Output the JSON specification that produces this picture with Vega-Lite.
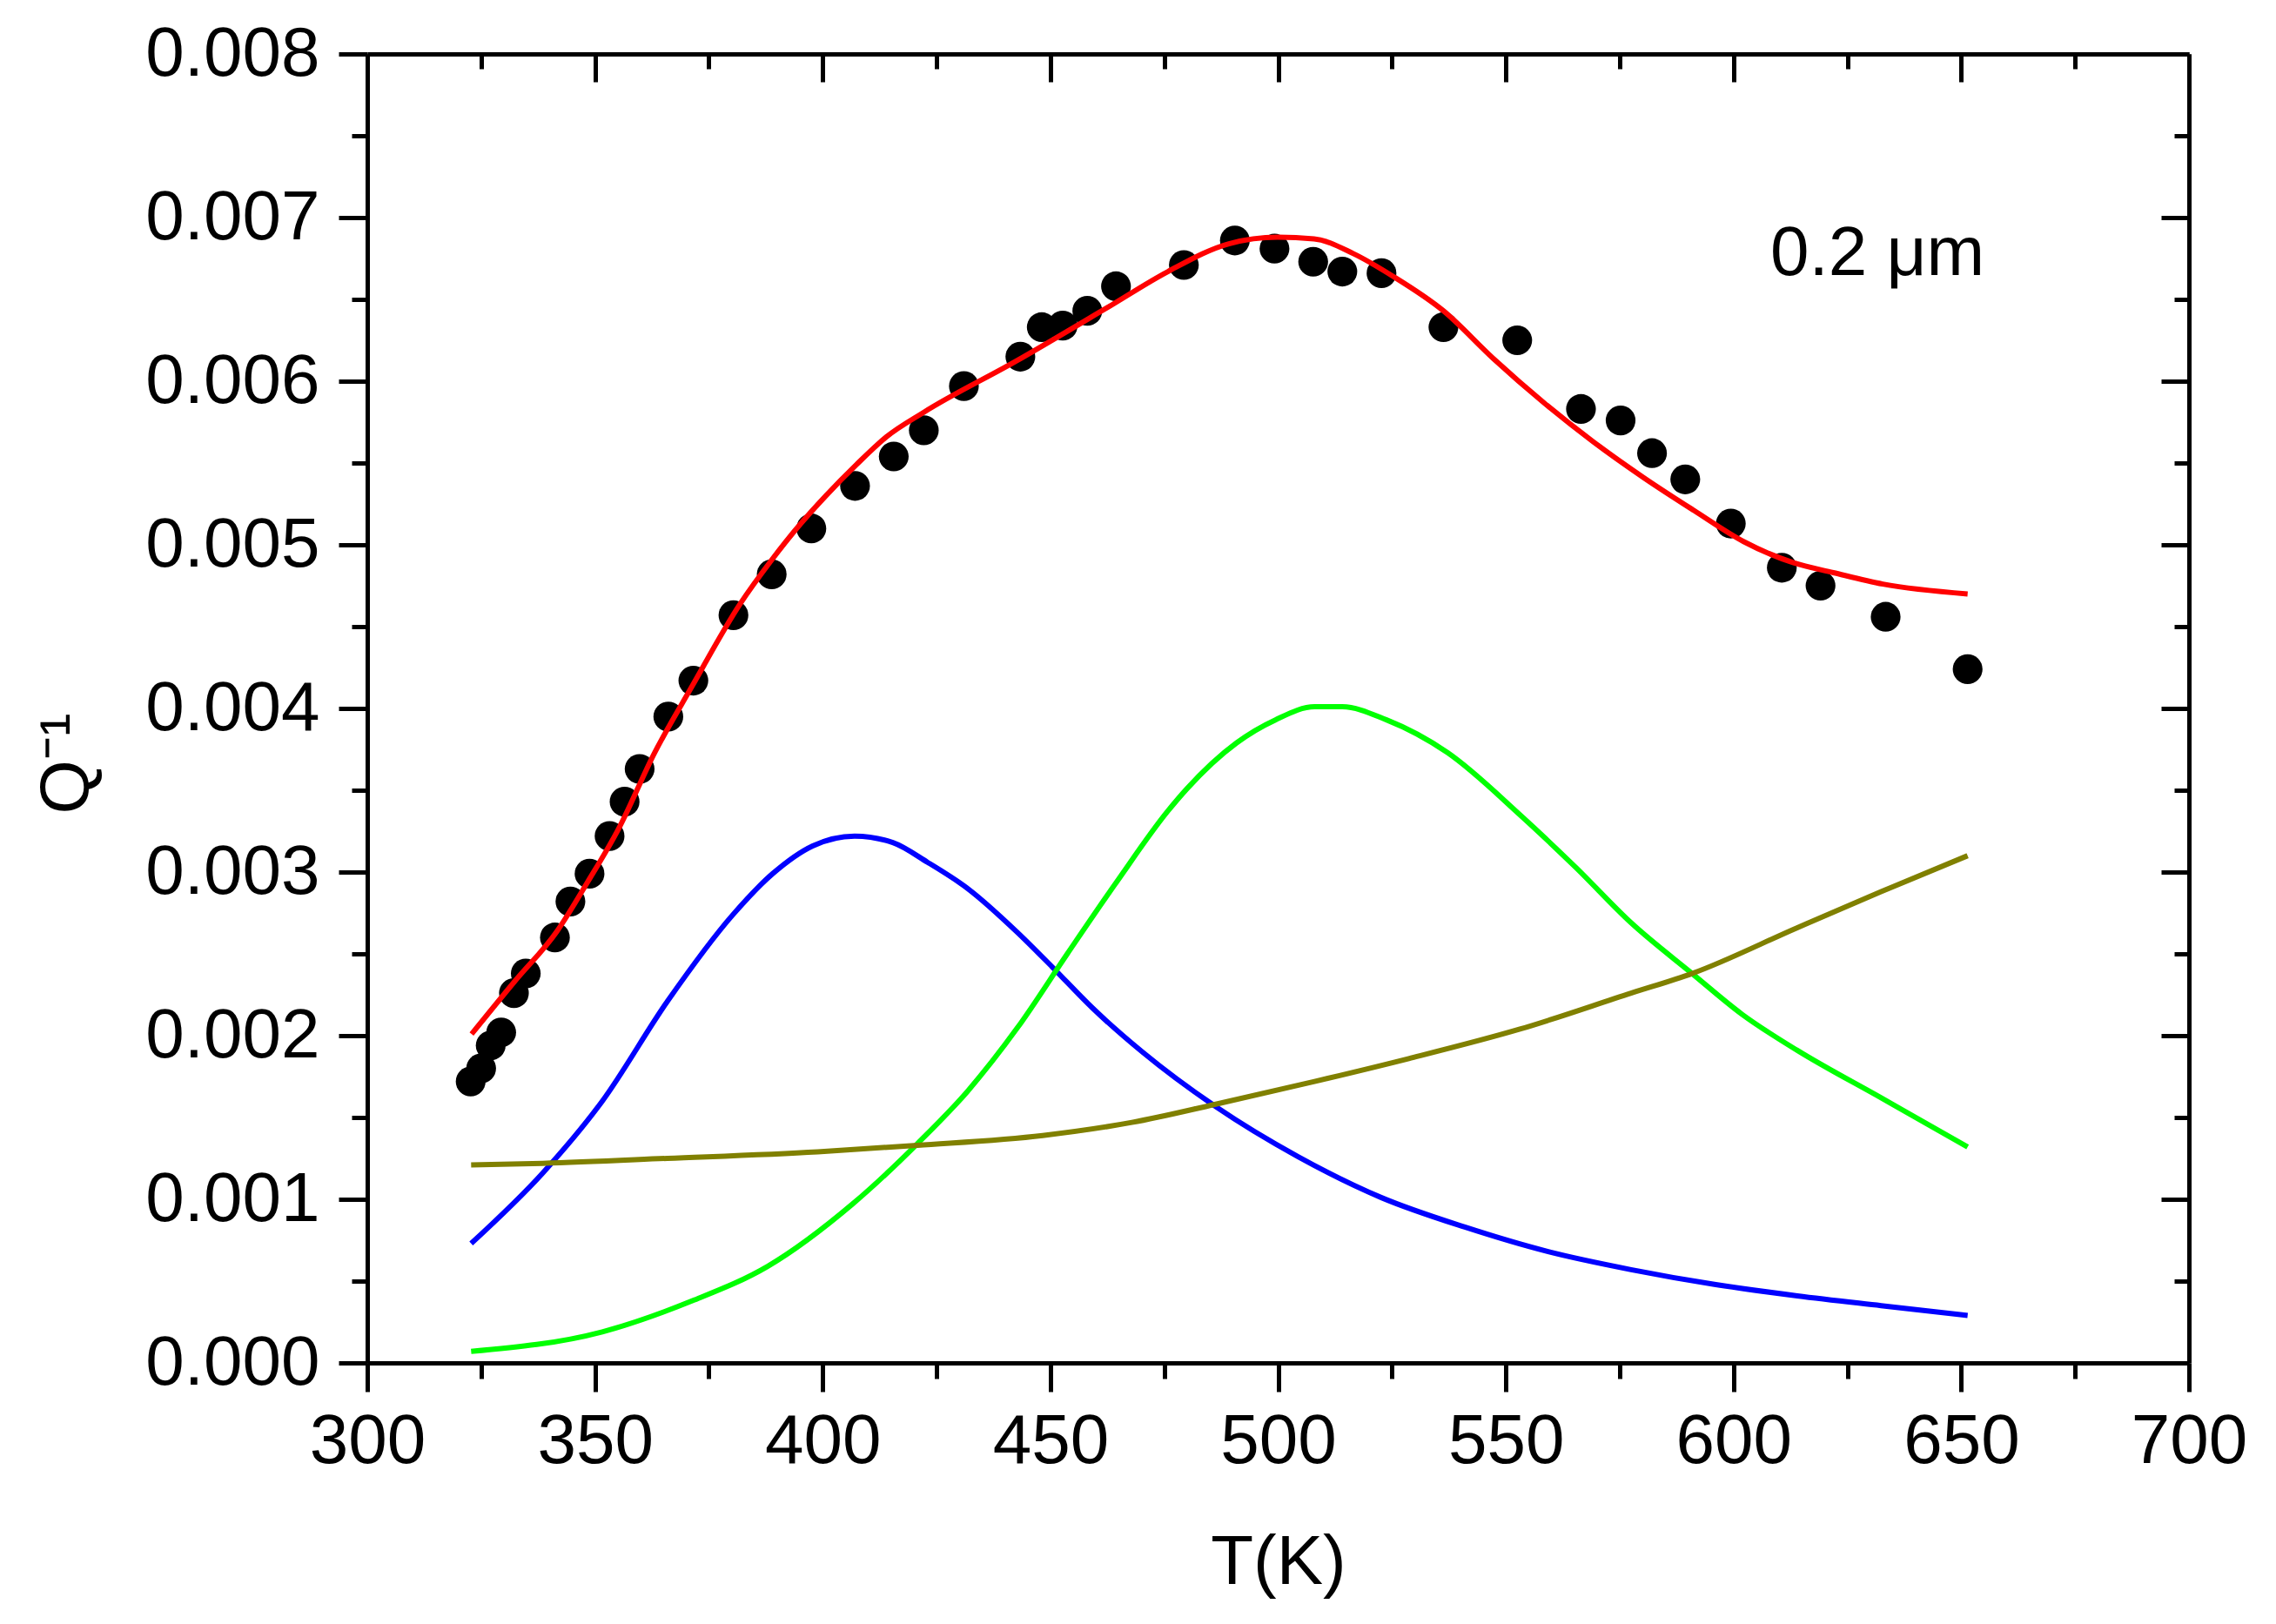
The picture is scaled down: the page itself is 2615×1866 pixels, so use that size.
{
  "$schema": "https://vega.github.io/schema/vega-lite/v6.json",
  "description": "Internal friction Q^-1 vs temperature, 0.2 um film, with fitted peaks",
  "width": 2093,
  "height": 1504,
  "autosize": "none",
  "padding": {"left": 422, "top": 62, "right": 100, "bottom": 300},
  "background": "white",
  "config": {
    "view": {"stroke": null},
    "font": "Liberation Sans",
    "axis": {
      "grid": false,
      "domainColor": "black",
      "domainWidth": 5,
      "tickColor": "black",
      "tickWidth": 5,
      "labelColor": "black",
      "labelFont": "Liberation Sans",
      "labelFontSize": 80,
      "labelLimit": 1000,
      "labelOverlap": false,
      "labelFlush": false,
      "titleFont": "Liberation Sans",
      "titleFontSize": 80,
      "titleFontWeight": "normal",
      "titleColor": "black",
      "titleLimit": 1000
    }
  },
  "datasets": {
    "points": [
      {"T": 322.7, "Q": 0.00172}, {"T": 325.0, "Q": 0.00180}, {"T": 327.1, "Q": 0.00194},
      {"T": 329.4, "Q": 0.00202}, {"T": 332.2, "Q": 0.00226}, {"T": 334.8, "Q": 0.00238},
      {"T": 341.2, "Q": 0.00260},
      {"T": 344.6, "Q": 0.00282}, {"T": 348.8, "Q": 0.00299}, {"T": 353.2, "Q": 0.00322},
      {"T": 356.5, "Q": 0.00343}, {"T": 359.8, "Q": 0.00363}, {"T": 366.1, "Q": 0.00395},
      {"T": 371.6, "Q": 0.00417}, {"T": 380.4, "Q": 0.00457}, {"T": 388.8, "Q": 0.00482},
      {"T": 397.5, "Q": 0.00510}, {"T": 407.1, "Q": 0.00536}, {"T": 415.6, "Q": 0.00554},
      {"T": 422.2, "Q": 0.00570}, {"T": 431.0, "Q": 0.00597}, {"T": 443.4, "Q": 0.00615},
      {"T": 448.1, "Q": 0.00633}, {"T": 452.7, "Q": 0.00634}, {"T": 458.1, "Q": 0.00643},
      {"T": 464.4, "Q": 0.00658}, {"T": 479.3, "Q": 0.00671}, {"T": 490.5, "Q": 0.00686},
      {"T": 499.2, "Q": 0.00681}, {"T": 507.7, "Q": 0.00673}, {"T": 514.1, "Q": 0.00667},
      {"T": 522.7, "Q": 0.00666}, {"T": 536.3, "Q": 0.00633}, {"T": 552.5, "Q": 0.00625},
      {"T": 566.5, "Q": 0.00583}, {"T": 575.2, "Q": 0.00576}, {"T": 582.1, "Q": 0.00556},
      {"T": 589.4, "Q": 0.00540}, {"T": 599.4, "Q": 0.00513}, {"T": 610.6, "Q": 0.00486},
      {"T": 619.1, "Q": 0.00475}, {"T": 633.4, "Q": 0.00456}, {"T": 651.4, "Q": 0.00424}
    ],
    "curves": [
      {"s": "fit", "T": 322.9, "Q": 0.00201}, {"s": "fit", "T": 332.3, "Q": 0.00233},
      {"s": "fit", "T": 341.7, "Q": 0.00264}, {"s": "fit", "T": 348.4, "Q": 0.00294},
      {"s": "fit", "T": 355.1, "Q": 0.00326}, {"s": "fit", "T": 363.1, "Q": 0.00373},
      {"s": "fit", "T": 371.2, "Q": 0.00413}, {"s": "fit", "T": 381.9, "Q": 0.00464},
      {"s": "fit", "T": 388.6, "Q": 0.00490}, {"s": "fit", "T": 395.2, "Q": 0.00513},
      {"s": "fit", "T": 400.7, "Q": 0.00530}, {"s": "fit", "T": 407.4, "Q": 0.00549},
      {"s": "fit", "T": 414.0, "Q": 0.00566}, {"s": "fit", "T": 422.2, "Q": 0.00581},
      {"s": "fit", "T": 442.3, "Q": 0.00612},
      {"s": "fit", "T": 462.5, "Q": 0.00645}, {"s": "fit", "T": 475.8, "Q": 0.00667},
      {"s": "fit", "T": 489.2, "Q": 0.00684}, {"s": "fit", "T": 499.9, "Q": 0.00688},
      {"s": "fit", "T": 507.9, "Q": 0.00687}, {"s": "fit", "T": 516.5, "Q": 0.00678},
      {"s": "fit", "T": 525.3, "Q": 0.00664}, {"s": "fit", "T": 536.3, "Q": 0.00643},
      {"s": "fit", "T": 547.2, "Q": 0.00614}, {"s": "fit", "T": 558.3, "Q": 0.00587},
      {"s": "fit", "T": 569.2, "Q": 0.00563}, {"s": "fit", "T": 580.3, "Q": 0.00541},
      {"s": "fit", "T": 591.3, "Q": 0.00521}, {"s": "fit", "T": 602.2, "Q": 0.00502},
      {"s": "fit", "T": 613.2, "Q": 0.00489}, {"s": "fit", "T": 621.9, "Q": 0.00483},
      {"s": "fit", "T": 632.8, "Q": 0.00476}, {"s": "fit", "T": 651.4, "Q": 0.00470},

      {"s": "peak1", "T": 322.8, "Q": 0.00073}, {"s": "peak1", "T": 338.5, "Q": 0.00116},
      {"s": "peak1", "T": 351.6, "Q": 0.00160}, {"s": "peak1", "T": 365.9, "Q": 0.00221},
      {"s": "peak1", "T": 380.3, "Q": 0.00274}, {"s": "peak1", "T": 389.0, "Q": 0.00299},
      {"s": "peak1", "T": 397.8, "Q": 0.00316}, {"s": "peak1", "T": 407.0, "Q": 0.00322},
      {"s": "peak1", "T": 415.4, "Q": 0.00318}, {"s": "peak1", "T": 423.0, "Q": 0.00306},
      {"s": "peak1", "T": 431.8, "Q": 0.00290}, {"s": "peak1", "T": 442.8, "Q": 0.00263},
      {"s": "peak1", "T": 450.4, "Q": 0.00242}, {"s": "peak1", "T": 459.2, "Q": 0.00217},
      {"s": "peak1", "T": 470.2, "Q": 0.00190}, {"s": "peak1", "T": 486.1, "Q": 0.00157},
      {"s": "peak1", "T": 504.4, "Q": 0.00126}, {"s": "peak1", "T": 522.7, "Q": 0.00101},
      {"s": "peak1", "T": 541.0, "Q": 0.00083}, {"s": "peak1", "T": 559.3, "Q": 0.00068},
      {"s": "peak1", "T": 577.5, "Q": 0.00057}, {"s": "peak1", "T": 595.8, "Q": 0.00048},
      {"s": "peak1", "T": 614.0, "Q": 0.00041}, {"s": "peak1", "T": 632.4, "Q": 0.00035},
      {"s": "peak1", "T": 651.4, "Q": 0.00029},

      {"s": "peak2", "T": 322.8, "Q": 0.00007}, {"s": "peak2", "T": 351.6, "Q": 0.00019},
      {"s": "peak2", "T": 371.4, "Q": 0.00038}, {"s": "peak2", "T": 387.9, "Q": 0.00059},
      {"s": "peak2", "T": 406.5, "Q": 0.00097}, {"s": "peak2", "T": 420.8, "Q": 0.00134},
      {"s": "peak2", "T": 431.8, "Q": 0.00166}, {"s": "peak2", "T": 442.8, "Q": 0.00205},
      {"s": "peak2", "T": 453.7, "Q": 0.00250}, {"s": "peak2", "T": 464.8, "Q": 0.00295},
      {"s": "peak2", "T": 475.7, "Q": 0.00337}, {"s": "peak2", "T": 480.0, "Q": 0.00351},
      {"s": "peak2", "T": 490.9, "Q": 0.00379}, {"s": "peak2", "T": 499.4, "Q": 0.00393},
      {"s": "peak2", "T": 508.0, "Q": 0.00401}, {"s": "peak2", "T": 514.1, "Q": 0.00401},
      {"s": "peak2", "T": 523.8, "Q": 0.00393}, {"s": "peak2", "T": 537.2, "Q": 0.00373},
      {"s": "peak2", "T": 553.1, "Q": 0.00335}, {"s": "peak2", "T": 565.3, "Q": 0.00303},
      {"s": "peak2", "T": 577.5, "Q": 0.00269}, {"s": "peak2", "T": 590.9, "Q": 0.00238},
      {"s": "peak2", "T": 601.9, "Q": 0.00213}, {"s": "peak2", "T": 614.0, "Q": 0.00191},
      {"s": "peak2", "T": 632.4, "Q": 0.00162}, {"s": "peak2", "T": 651.4, "Q": 0.00132},

      {"s": "background", "T": 322.8, "Q": 0.00121}, {"s": "background", "T": 338.5, "Q": 0.00122},
      {"s": "background", "T": 365.9, "Q": 0.00125}, {"s": "background", "T": 398.9, "Q": 0.00129},
      {"s": "background", "T": 420.8, "Q": 0.00133}, {"s": "background", "T": 448.3, "Q": 0.00139},
      {"s": "background", "T": 467.9, "Q": 0.00147}, {"s": "background", "T": 486.1, "Q": 0.00158},
      {"s": "background", "T": 508.0, "Q": 0.00172}, {"s": "background", "T": 528.7, "Q": 0.00186},
      {"s": "background", "T": 553.1, "Q": 0.00204}, {"s": "background", "T": 577.5, "Q": 0.00226},
      {"s": "background", "T": 590.9, "Q": 0.00238}, {"s": "background", "T": 614.0, "Q": 0.00266},
      {"s": "background", "T": 632.4, "Q": 0.00288}, {"s": "background", "T": 651.4, "Q": 0.00310}
    ],
    "note": [
      {"T": 631.6, "Q": 0.00665, "label": "0.2 μm"}
    ]
  },
  "resolve": {"axis": {"x": "independent", "y": "independent"}},
  "layer": [
    {
      "data": {"name": "points"},
      "mark": {"type": "circle", "color": "black", "opacity": 1, "size": 1170},
      "encoding": {
        "x": {
          "field": "T", "type": "quantitative",
          "scale": {"domain": [300, 700], "nice": false, "zero": false},
          "axis": {
            "orient": "bottom",
            "values": [300, 325, 350, 375, 400, 425, 450, 475, 500, 525, 550, 575, 600, 625, 650, 675, 700],
            "format": "d",
            "labelExpr": "datum.value % 50 === 0 ? datum.label : ''",
            "tickSize": {"condition": {"test": "datum.value % 50 === 0", "value": 33}, "value": 18},
            "labelPadding": 18,
            "title": "T(K)",
            "titleY": 190,
            "titleBaseline": "top"
          }
        },
        "y": {
          "field": "Q", "type": "quantitative",
          "scale": {"domain": [0, 0.008], "nice": false},
          "axis": {
            "orient": "left",
            "values": [0, 0.0005, 0.001, 0.0015, 0.002, 0.0025, 0.003, 0.0035, 0.004, 0.0045, 0.005, 0.0055, 0.006, 0.0065, 0.007, 0.0075, 0.008],
            "format": ".3f",
            "labelExpr": "round(datum.value * 10000) % 10 === 0 ? datum.label : ''",
            "tickSize": {"condition": {"test": "round(datum.value * 10000) % 10 === 0", "value": 33}, "value": 18},
            "labelPadding": 22,
            "title": "Q⁻¹",
            "titleAngle": -90,
            "titleX": -321,
            "titleY": 815,
            "titleAlign": "center",
            "titleBaseline": "alphabetic"
          }
        }
      }
    },
    {
      "data": {"name": "curves"},
      "mark": {"type": "line", "interpolate": "monotone"},
      "encoding": {
        "x": {"field": "T", "type": "quantitative", "axis": null},
        "y": {"field": "Q", "type": "quantitative", "axis": null},
        "color": {
          "field": "s", "type": "nominal", "legend": null,
          "scale": {"domain": ["fit", "peak1", "peak2", "background"], "range": ["#ff0000", "#0000ff", "#00ff00", "#808000"]}
        },
        "strokeWidth": {
          "field": "s", "type": "nominal", "legend": null,
          "scale": {"domain": ["fit", "peak1", "peak2", "background"], "range": [6, 6, 6, 7]}
        }
      }
    },
    {
      "data": {"name": "note"},
      "mark": {"type": "text", "font": "Liberation Sans", "fontSize": 80, "color": "black", "align": "center", "baseline": "alphabetic"},
      "encoding": {
        "x": {
          "field": "T", "type": "quantitative",
          "axis": {
            "orient": "top",
            "values": [300, 325, 350, 375, 400, 425, 450, 475, 500, 525, 550, 575, 600, 625, 650, 675, 700],
            "labels": false,
            "title": null,
            "tickSize": {"condition": {"test": "datum.value % 50 === 0", "value": -32}, "value": -17}
          }
        },
        "y": {
          "field": "Q", "type": "quantitative",
          "axis": {
            "orient": "right",
            "values": [0, 0.0005, 0.001, 0.0015, 0.002, 0.0025, 0.003, 0.0035, 0.004, 0.0045, 0.005, 0.0055, 0.006, 0.0065, 0.007, 0.0075, 0.008],
            "labels": false,
            "title": null,
            "tickSize": {"condition": {"test": "round(datum.value * 10000) % 10 === 0", "value": -32}, "value": -17}
          }
        },
        "text": {"field": "label"}
      }
    }
  ]
}
